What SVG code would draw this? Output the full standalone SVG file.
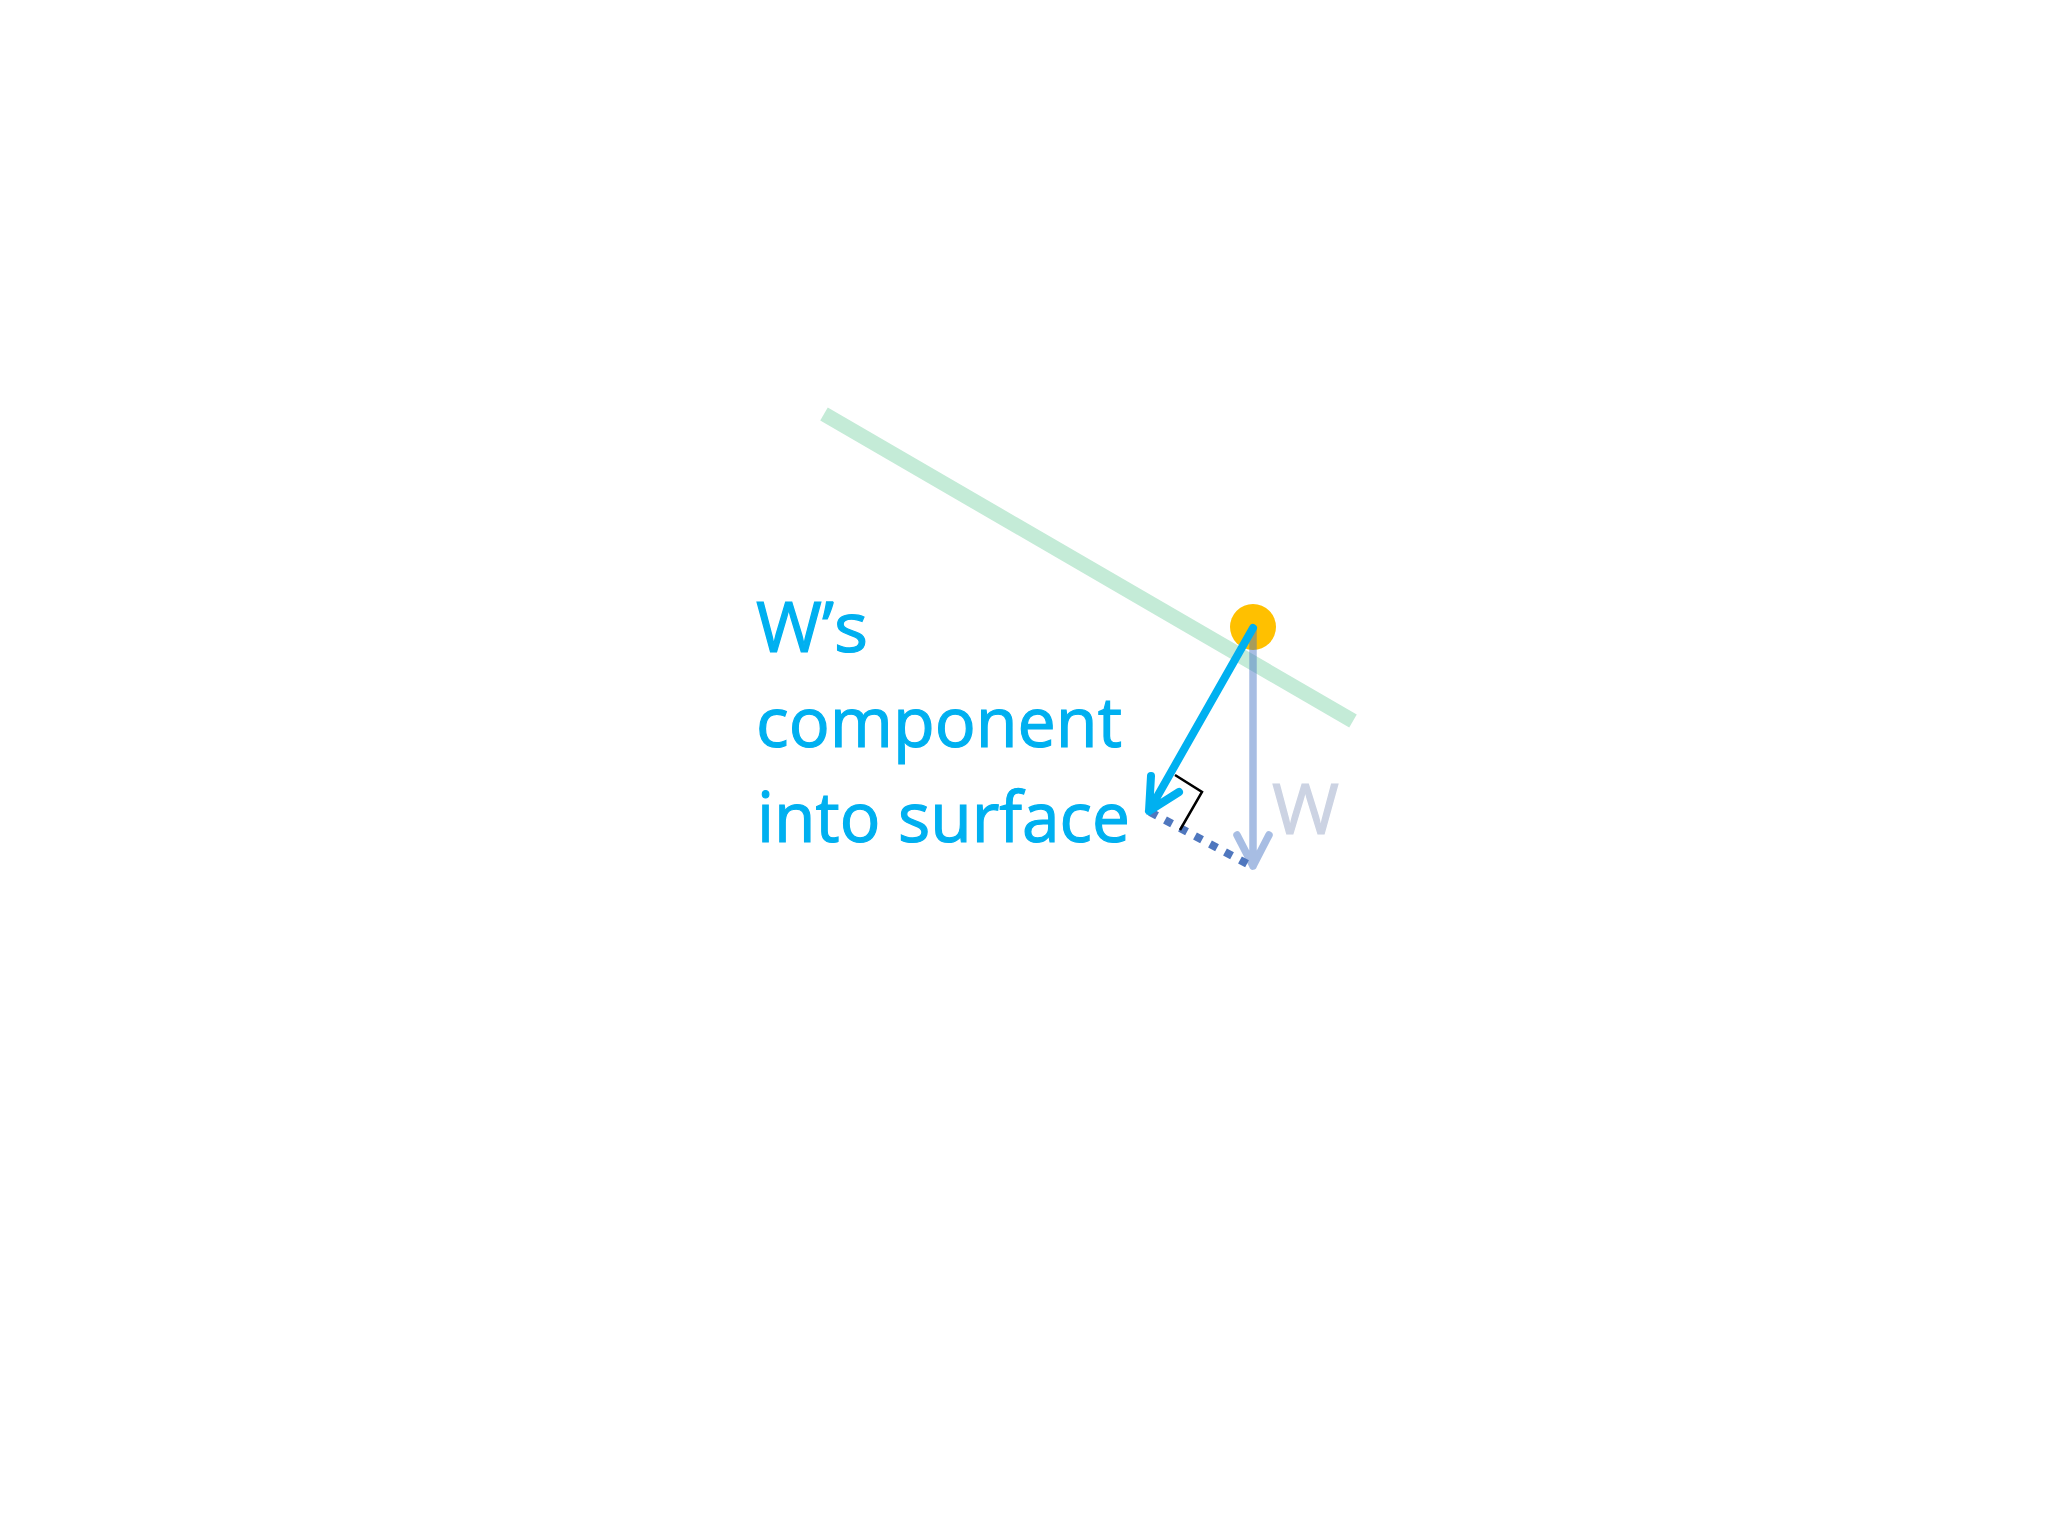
<svg xmlns="http://www.w3.org/2000/svg" width="2048" height="1536" viewBox="0 0 2048 1536">
<style>
.lbl{font-family:"Open Sans","Liberation Sans",sans-serif;font-size:70px;stroke-width:1.2px;}
.blue{fill:#00B0F0;stroke:#00B0F0;}
.w{fill:#CCD3E3;stroke:#CCD3E3;}
</style>
<rect x="0" y="0" width="2048" height="1536" fill="#FFFFFF"/>
<g id="surface">
<line x1="824" y1="414" x2="1353" y2="721" stroke="#C4EBD7" stroke-width="15"/>
</g>
<g id="ball">
<circle cx="1253" cy="627" r="23" fill="#FFC000"/>
</g>
<g id="connectors">
<path id="weight-arrow" d="M1253 630 V866 M1237 835 L1253 866 L1269 835" fill="none" stroke="#4472C4" stroke-width="7.5" stroke-linecap="round" stroke-linejoin="round" opacity="0.47"/>
<line id="dotted" x1="1150" y1="812" x2="1253" y2="867" stroke="#4F77BE" stroke-width="8" stroke-dasharray="8 9"/>
<path id="right-angle" d="M1175 775 L1202 792 L1180 830" fill="none" stroke="#000000" stroke-width="2.5"/>
<path id="component-arrow" d="M1253 628 L1149 811 M1151 776 L1149 811 L1179 792" fill="none" stroke="#00B0F0" stroke-width="8" stroke-linecap="round" stroke-linejoin="round"/>
</g>
<g id="label-component">
<text class="lbl blue" x="756" y="652" textLength="112" lengthAdjust="spacingAndGlyphs">W’s</text>
<text class="lbl blue" x="756" y="747" textLength="366" lengthAdjust="spacingAndGlyphs">component</text>
<text class="lbl blue" x="757" y="842" textLength="373" lengthAdjust="spacingAndGlyphs">into surface</text>
</g>
<g id="label-w">
<text class="lbl w" x="1272" y="834" textLength="67" lengthAdjust="spacingAndGlyphs">W</text>
</g>
</svg>
